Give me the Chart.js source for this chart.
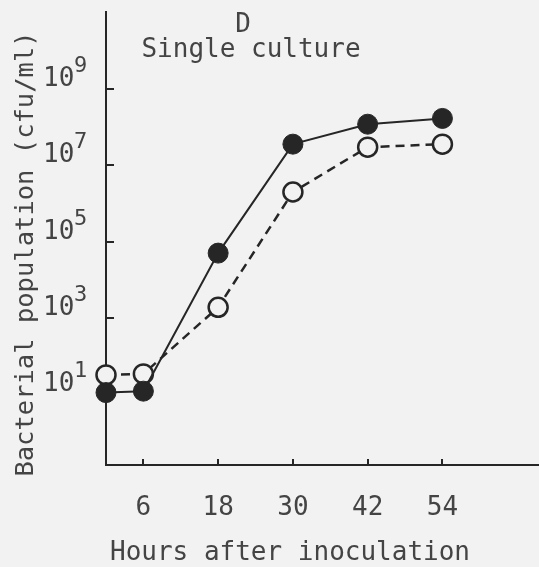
<!DOCTYPE html>
<html>
<head>
<meta charset="utf-8">
<script src="https://cdn.jsdelivr.net/npm/chart.js@4.4.1/dist/chart.umd.min.js"></script>
<style>
  html, body { margin: 0; padding: 0; background: #f2f2f2; }
  canvas { display: block; }
</style>
</head>
<body>
<canvas id="growthChart" width="539" height="567"></canvas>
<script>
// sampling times (h) and counts (cfu/ml)
const hours = [0, 6, 18, 30, 42, 54];
const filledCounts = [11, 12, 5.0e4, 3.6e7, 1.2e8, 1.7e8];
const openCounts = [32, 34, 1.9e3, 2.0e6, 3.0e7, 3.6e7];

const hourTicks = [6, 18, 30, 42, 54];
const countTicks = [1e1, 1e3, 1e5, 1e7, 1e9];

const ink = '#262626';
const textInk = '#444444';
const paper = '#f2f2f2';
const mono = '"DejaVu Sans Mono", monospace';

function toPoints(values) {
    return hours.map((h, i) => ({ x: h, y: values[i] }));
}

// inward tick marks, "10^n" labels and the titles
const paperAxes = {
    id: 'paperAxes',
    beforeDatasetsDraw(chart) {
        const { ctx, scales: { x, y }, chartArea } = chart;
        ctx.save();
        ctx.strokeStyle = ink;
        ctx.lineWidth = 2;
        ctx.beginPath();
        countTicks.forEach(v => {
            const py = Math.round(y.getPixelForValue(v));
            ctx.moveTo(chartArea.left, py);
            ctx.lineTo(chartArea.left + 8, py);
        });
        hourTicks.forEach(v => {
            const px = Math.round(x.getPixelForValue(v));
            ctx.moveTo(px, chartArea.bottom);
            ctx.lineTo(px, chartArea.bottom - 6);
        });
        ctx.stroke();
        ctx.restore();
    },
    afterDraw(chart) {
        const { ctx, scales: { x, y } } = chart;
        ctx.save();
        ctx.fillStyle = textInk;
        ctx.textBaseline = 'alphabetic';

        countTicks.forEach(v => {
            const py = y.getPixelForValue(v);
            const exp = Math.round(Math.log10(v));
            ctx.textAlign = 'left';
            ctx.font = '26px ' + mono;
            ctx.fillText('10', 43, py - 3);
            ctx.font = '22px ' + mono;
            ctx.fillText(String(exp), 74, py - 17);
        });

        ctx.font = '26px ' + mono;
        ctx.textAlign = 'center';
        hourTicks.forEach(v => {
            ctx.fillText(String(v), x.getPixelForValue(v), 515);
        });

        ctx.fillText('Hours after inoculation', 290, 560);
        ctx.fillText('D', 243, 32);
        ctx.fillText('Single culture', 251, 57);

        ctx.translate(33, 254);
        ctx.rotate(-Math.PI / 2);
        ctx.font = '25.5px ' + mono;
        ctx.fillText('Bacterial population (cfu/ml)', 0, 0);
        ctx.restore();
    }
};

new Chart(document.getElementById('growthChart'), {
    type: 'line',
    data: {
        datasets: [{
            label: 'filled',
            data: toPoints(filledCounts),
            borderColor: ink,
            borderWidth: 2,
            pointRadius: 10,
            pointBackgroundColor: ink,
            pointBorderColor: ink,
            pointBorderWidth: 1,
            clip: false
        }, {
            label: 'open',
            data: toPoints(openCounts),
            borderColor: ink,
            borderWidth: 2.5,
            borderDash: [9, 6],
            pointRadius: 9.5,
            pointBackgroundColor: paper,
            pointBorderColor: ink,
            pointBorderWidth: 2.5,
            clip: false
        }]
    },
    options: {
        responsive: false,
        animation: false,
        devicePixelRatio: 1,
        layout: {
            autoPadding: false,
            padding: { left: 106, top: 12, right: 0, bottom: 102 }
        },
        plugins: {
            legend: { display: false },
            tooltip: { enabled: false }
        },
        scales: {
            x: {
                type: 'linear',
                min: 0,
                max: 69.5,
                grid: { display: false, drawTicks: false },
                ticks: { display: false },
                border: { color: ink, width: 2 },
                afterFit: s => { s.height = 0; }
            },
            y: {
                type: 'logarithmic',
                min: 0.139,
                max: 1.05e11,
                grid: { display: false, drawTicks: false },
                ticks: { display: false },
                border: { color: ink, width: 2 },
                afterBuildTicks: s => { s.ticks = countTicks.map(v => ({ value: v })); },
                afterFit: s => { s.width = 0; }
            }
        }
    },
    plugins: [paperAxes]
});
</script>
</body>
</html>
